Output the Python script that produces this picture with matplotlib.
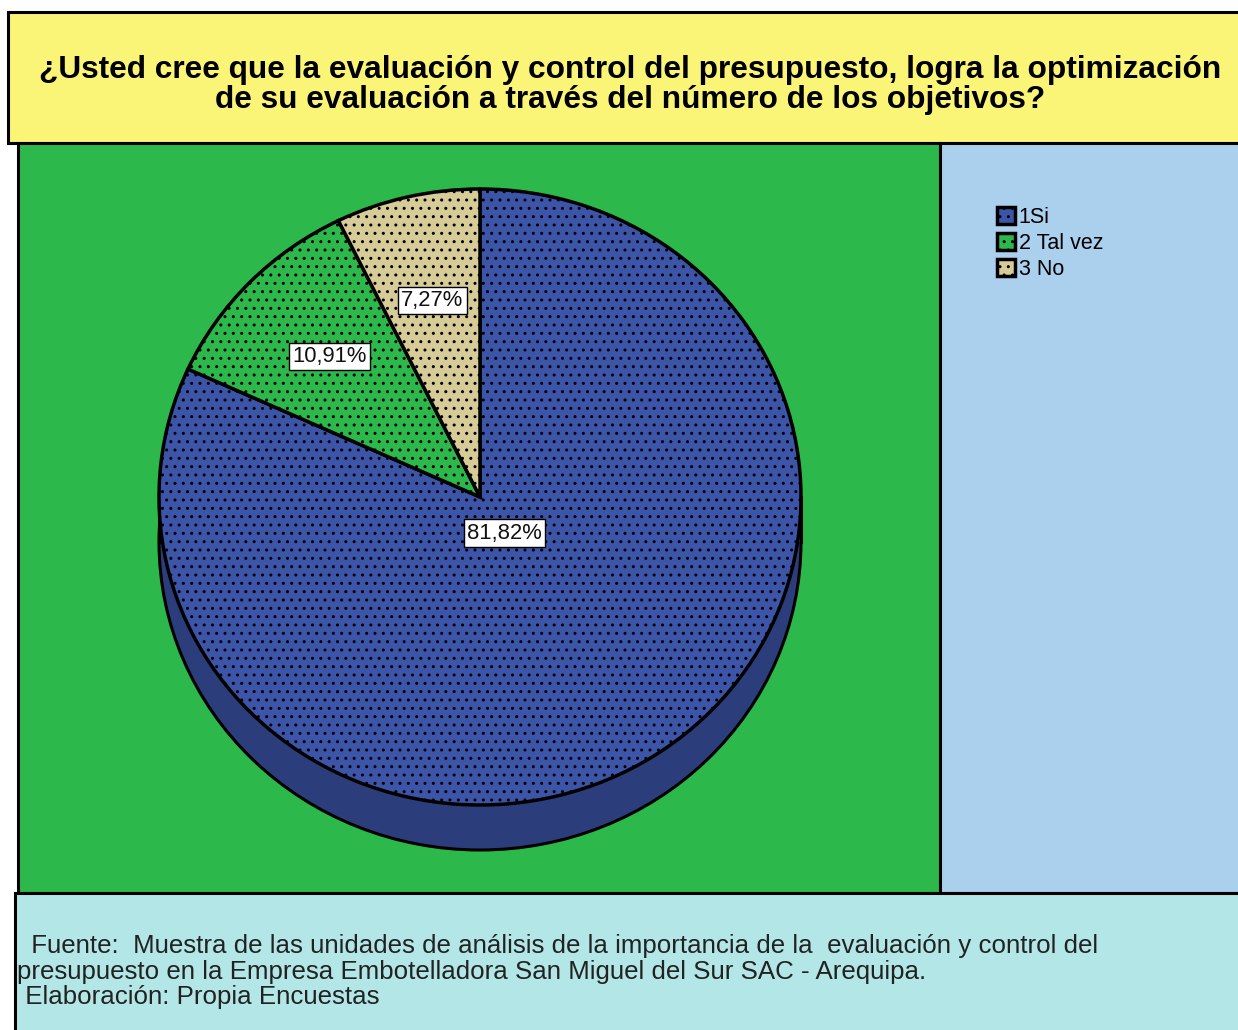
import numpy as np
import matplotlib
matplotlib.use('Agg')
import matplotlib.pyplot as plt
from matplotlib.patches import Rectangle, Ellipse

# datos del grafico
categorias = ['1Si', '2 Tal vez', '3 No']
frecuencias = [45, 6, 4]
colores = ['#3D55A8', '#2DB84B', '#D7CC97']
titulo = ('¿Usted cree que la evaluación y control del presupuesto, logra la optimización\n'
          'de su evaluación a través del número de los objetivos?')
nota = [' Fuente:  Muestra de las unidades de análisis de la importancia de la  evaluación y control del',
        'presupuesto en la Empresa Embotelladora San Miguel del Sur SAC - Arequipa.',
        ' Elaboración: Propia Encuestas']

plt.rcParams['font.family'] = ['Liberation Sans', 'DejaVu Sans']
plt.rcParams['hatch.linewidth'] = 1.0

W, H = 1238, 1030
fig = plt.figure(figsize=(W / 100, H / 100), dpi=100)
fig.patch.set_facecolor('white')

# fondo en pixeles
bg = fig.add_axes([0, 0, 1, 1])
bg.set_xlim(0, W)
bg.set_ylim(H, 0)
bg.axis('off')
lw = 2.2
bg.add_patch(Rectangle((8, 12), 1245, 131, fc='#FAF477', ec='black', lw=lw))
bg.add_patch(Rectangle((18, 143), 922, 750, fc='#2DB84B', ec='black', lw=lw))
bg.add_patch(Rectangle((940, 143), 315, 750, fc='#ABD0EE', ec='black', lw=lw))
bg.add_patch(Rectangle((15, 893), 1245, 145, fc='#B3E6E6', ec='black', lw=lw))

bg.text(630, 85, titulo, ha='center', va='center', fontsize=22.8, fontweight='bold',
        linespacing=1.02)
for x, y, linea in zip([24, 17, 18], [946, 972, 997], nota):
    bg.text(x, y, linea, ha='left', va='center', fontsize=18.6, color='#222222')

# pastel con efecto 3d
cx, cy, rx, ry, prof, pad = 480, 497, 321, 308, 45, 12
x0, x1 = cx - rx - pad, cx + rx + pad
ytop, ybot = cy - ry - pad, cy + ry + prof + pad
ax = fig.add_axes([x0 / W, 1 - ybot / H, (x1 - x0) / W, (ybot - ytop) / H])
d = prof / ry

ax.add_patch(Ellipse((0, -d), 2, 2, fc='#2C3D7C', ec='black', lw=2.2, zorder=1))
ax.add_patch(Rectangle((-1, -d), 2, d, fc='#2C3D7C', ec='none', zorder=1))
ax.plot([-1, -1], [0, -d], color='black', lw=2.2, zorder=1)
ax.plot([1, 1], [0, -d], color='black', lw=2.2, zorder=1)

wedges, texts, autotexts = ax.pie(
    frecuencias, colors=colores, startangle=90, counterclock=False, radius=1,
    autopct=lambda p: f'{p:.2f}%'.replace('.', ','), pctdistance=0.655,
    wedgeprops=dict(edgecolor='black', linewidth=2.5, hatch='..', zorder=2),
    textprops=dict(fontsize=15.8, color='#111111'))
for t in autotexts:
    t.set_bbox(dict(boxstyle='square,pad=0.15', fc='white', ec='black', lw=1))
    t.set_zorder(5)
ang = np.deg2rad((wedges[0].theta1 + wedges[0].theta2) / 2)
autotexts[0].set_position((0.14 * np.cos(ang), 0.14 * np.sin(ang)))

ax.set_aspect('auto')
ax.set_xlim(-1 - pad / rx, 1 + pad / rx)
ax.set_ylim(-1 - (prof + pad) / ry, 1 + pad / ry)
ax.axis('off')

fig.legend(wedges, categorias, loc='upper left', bbox_to_anchor=(997 / W, 1 - 207 / H),
           frameon=False, fontsize=15.5, handlelength=0.85, handleheight=0.85,
           handletextpad=0.15, labelspacing=0.22, borderpad=0, borderaxespad=0)

fig.savefig('out.png', dpi=100)
